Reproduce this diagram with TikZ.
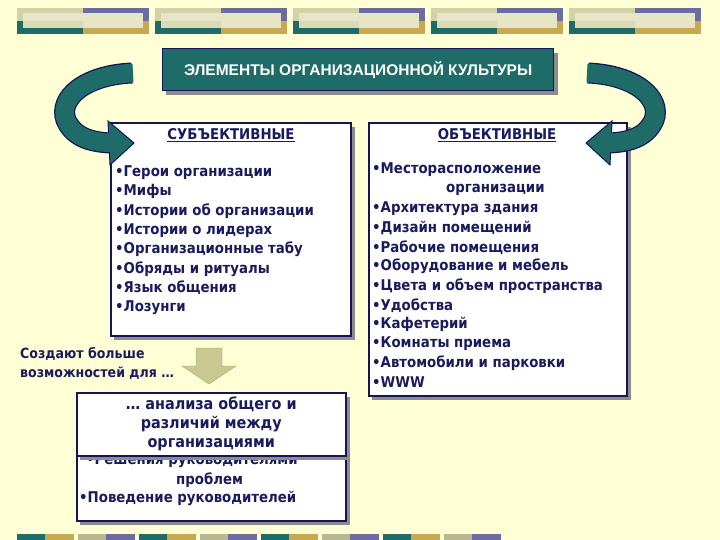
\documentclass[tikz,border=0pt]{standalone}
\usepackage{fontspec}
\setmainfont{Liberation Sans}
\newfontfamily\cond{DejaVu Sans Condensed}
\begin{document}
\begin{tikzpicture}[x=1pt,y=-1pt,
  txt/.style={text=navyt},
  card/.style={draw=navyb,line width=1.6pt,fill=white},
  shadow/.style={fill=shadowg},
  item/.style={anchor=west,inner sep=0pt,text=navyt,font=\cond\bfseries\fontsize{14.8}{16}\selectfont},
]
\definecolor{bg}{HTML}{FFFFD6}
\definecolor{navyt}{HTML}{1A1A5E}
\definecolor{navyb}{HTML}{14145A}
\definecolor{tealc}{HTML}{1F6B68}
\definecolor{shadowg}{HTML}{8C8C8C}
\definecolor{kh}{HTML}{D2D2A8}
\definecolor{lt}{HTML}{E6E6C6}
\definecolor{pu}{HTML}{6C6CA0}
\definecolor{go}{HTML}{C8A850}
\definecolor{khb}{HTML}{B8B890}
\definecolor{arrk}{HTML}{C8C890}
\useasboundingbox (0,0) rectangle (720,540);
\fill[bg] (0,0) rectangle (720,540);
% top strips
\foreach \x in {17,155,293,431,569}{
  \fill[kh] (\x,8) rectangle (\x+66,21);
  \fill[tealc] (\x,21) rectangle (\x+66,34);
  \fill[pu] (\x+66,8) rectangle (\x+132,21);
  \fill[go] (\x+66,21) rectangle (\x+132,34);
  \fill[lt] (\x+6,13) rectangle (\x+126,28);
  \fill[kh!60!lt] (\x+6,21) rectangle (\x+66,28);
}
% bottom blocks
\foreach \i in {0,...,7}{
  \pgfmathsetmacro{\xx}{17+61*\i}
  \ifodd\i
    \fill[khb] (\xx,534) rectangle (\xx+28,540);
    \fill[pu] (\xx+28,534) rectangle (\xx+57,540);
  \else
    \fill[tealc] (\xx,534) rectangle (\xx+28,540);
    \fill[go] (\xx+28,534) rectangle (\xx+57,540);
  \fi
}
% title
\fill[shadow] (166,53) rectangle (558,95);
\node[draw=navyb,line width=1.4pt,fill=tealc,minimum width=391pt,minimum height=42pt,anchor=north west,
  text=white,font=\bfseries\fontsize{15.5}{17}\selectfont] (title) at (162,48) {ЭЛЕМЕНТЫ ОРГАНИЗАЦИОННОЙ КУЛЬТУРЫ};
% left card
\fill[shadow] (114,127) rectangle (355,340);
\node[card,minimum width=240pt,minimum height=213pt,anchor=north west] (subj) at (110,122) {};
\node[txt,font=\cond\bfseries\fontsize{14.8}{16}\selectfont] (subjh) at (231,135) {\underline{СУБЪЕКТИВНЫЕ}};
\foreach \t [count=\i] in {Герои организации,Мифы,Истории об организации,Истории о лидерах,Организационные табу,Обряды и ритуалы,Язык общения,Лозунги}
  \node[item] (s\i) at (115,153+19.3*\i) {•\t};
% right card
\fill[shadow] (372,127) rectangle (631,400);
\node[card,minimum width=258pt,minimum height=273pt,anchor=north west] (obj) at (368,122) {};
\node[txt,font=\cond\bfseries\fontsize{14.8}{16}\selectfont] (objh) at (497,135) {\underline{ОБЪЕКТИВНЫЕ}};
\node[item] (o0) at (372,170) {•Месторасположение};
\node[item] (o1) at (446,189.5) {организации};
\foreach \t [count=\i] in {Архитектура здания,Дизайн помещений,Рабочие помещения,Оборудование и мебель,Цвета и объем пространства,Удобства,Кафетерий,Комнаты приема,Автомобили и парковки,WWW}
  \node[item] (o\i) at (372,189.5+19.3*\i) {•\t};
% curved arrows
\foreach \s/\o in {1/0,-1/720}{
\begin{scope}[shift={(\o,0)},xscale=\s]
  \draw[navyb,line width=21pt] (132,73) .. controls (85,75) and (58,98) .. (66,120) .. controls (74,138) and (92,142) .. (110,143);
  \draw[tealc,line width=18.5pt] (133,73) .. controls (85,75) and (58,98) .. (66,120) .. controls (74,138) and (92,142) .. (111,143);
  \filldraw[fill=tealc,draw=navyb,line width=1pt] (108,121) -- (134,143) -- (110,165) -- cycle;
  \fill[tealc] (107,133.5) rectangle (112,152.5);
\end{scope}}
% left note
\node[anchor=north west,align=left,inner sep=0pt,text=navyt,font=\cond\bfseries\fontsize{14}{19}\selectfont] (note) at (20,347) {Создают больше\\возможностей для \dots};
% down arrow
\filldraw[fill=arrk,draw=arrk!80!black,line width=0.4pt] (196,348) -- (222,348) -- (222,366) -- (236,366) -- (209,384) -- (182,366) -- (196,366) -- cycle;
% back card
\fill[shadow] (80,425) rectangle (350,525);
\node[card,minimum width=269pt,minimum height=100pt,anchor=north west] (back) at (76,420) {};
\node[item] (b1) at (86,461) {•Решения руководителями};
\node[item] (b2) at (176,480) {проблем};
\node[item] (b3) at (79,498) {•Поведение руководителей};
% front card
\fill[shadow] (80,397) rectangle (350,460);
\node[card,minimum width=269pt,minimum height=63pt,anchor=north west,align=center,text=navyt,
  font=\cond\bfseries\fontsize{16}{19}\selectfont] (front) at (76,392) {\dots\ анализа общего и\\различий между\\организациями};
\end{tikzpicture}
\end{document}
